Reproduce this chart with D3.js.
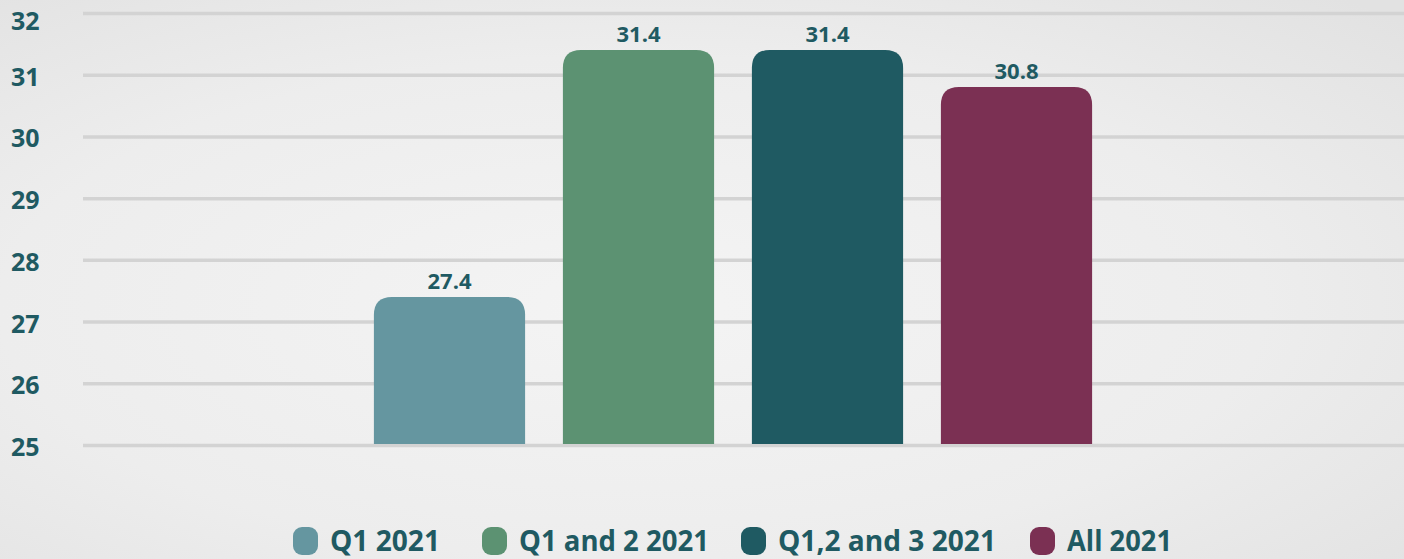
<!DOCTYPE html>
<html><head><meta charset="utf-8">
<script src="https://cdn.jsdelivr.net/npm/d3@7"></script>
<style>html,body{margin:0;padding:0;overflow:hidden}</style>
</head><body>
<svg id="c" width="1404" height="559"></svg>
<script>
const categories = ["Q1 2021", "Q1 and 2 2021", "Q1,2 and 3 2021", "All 2021"];
const values = [27.4, 31.4, 31.4, 30.8];
const colors = ["#6596a0", "#5c9272", "#1f5a62", "#7b3053"];
const yTicks = [25, 26, 27, 28, 29, 30, 31, 32];
const textColor = "#1f5a62";

const svg = d3.select("#c");
const W = 1404, H = 559;
const defs = svg.append("defs");
const rg = defs.append("radialGradient").attr("id","bg").attr("cx","45%").attr("cy","55%").attr("r","75%");
rg.append("stop").attr("offset","0%").attr("stop-color","#f4f4f4");
rg.append("stop").attr("offset","60%").attr("stop-color","#ededed");
rg.append("stop").attr("offset","100%").attr("stop-color","#e2e2e2");
svg.append("rect").attr("width",W).attr("height",H).attr("fill","url(#bg)");

const y = d3.scaleLinear().domain([25,32]).range([445,13]);
const x = d3.scaleBand().domain(categories).range([355,1111]).paddingInner(0.2).paddingOuter(0.1);

// grid
const grid = svg.append("g").attr("transform","translate(83,0)")
  .call(d3.axisLeft(y).tickValues(yTicks).tickSize(-(W-83)).tickFormat(""));
grid.select(".domain").remove();
grid.selectAll(".tick line").attr("stroke","#d3d3d3").attr("stroke-width",3.5);

// tick labels
svg.append("g").selectAll("text").data(yTicks).join("text")
  .attr("x",11).attr("y",d=>Math.max(y(d)+2, 21)).attr("dy","0.36em")
  .attr("font-family","Open Sans").attr("font-weight",700).attr("font-size",25)
  .attr("fill",textColor).text(d=>d);

// bars
const r = 18;
function barPath(x0,w,yt,yb){
  return `M${x0},${yb} L${x0},${yt+r} Q${x0},${yt} ${x0+r},${yt} L${x0+w-r},${yt} Q${x0+w},${yt} ${x0+w},${yt+r} L${x0+w},${yb} Z`;
}
const data = categories.map((c,i)=>({c, v:values[i], col:colors[i]}));
svg.append("g").selectAll("path").data(data).join("path")
  .attr("d",d=>barPath(x(d.c), x.bandwidth(), y(d.v), y(25)-1))
  .attr("fill",d=>d.col);

svg.append("g").selectAll("text").data(data).join("text")
  .attr("x",d=>x(d.c)+x.bandwidth()/2).attr("y",d=>y(d.v)-8)
  .attr("text-anchor","middle")
  .attr("font-family","Open Sans").attr("font-weight",700).attr("font-size",22)
  .attr("fill",textColor).text(d=>d.v.toFixed(1));

// legend
const legX = [293, 482, 741, 1030];
const lg = svg.append("g").selectAll("g").data(data).join("g")
  .attr("transform",(d,i)=>`translate(${legX[i]},527)`);
lg.append("rect").attr("width",25).attr("height",28).attr("rx",9).attr("fill",d=>d.col);
lg.append("text").attr("x",37).attr("y",14).attr("dy","0.36em")
  .attr("font-family","Open Sans").attr("font-weight",700).attr("font-size",28)
  .attr("fill",textColor).text(d=>d.c)
  .attr("textLength",(d,i)=>[110,190,218,105][i]).attr("lengthAdjust","spacingAndGlyphs");
</script>
</body></html>
